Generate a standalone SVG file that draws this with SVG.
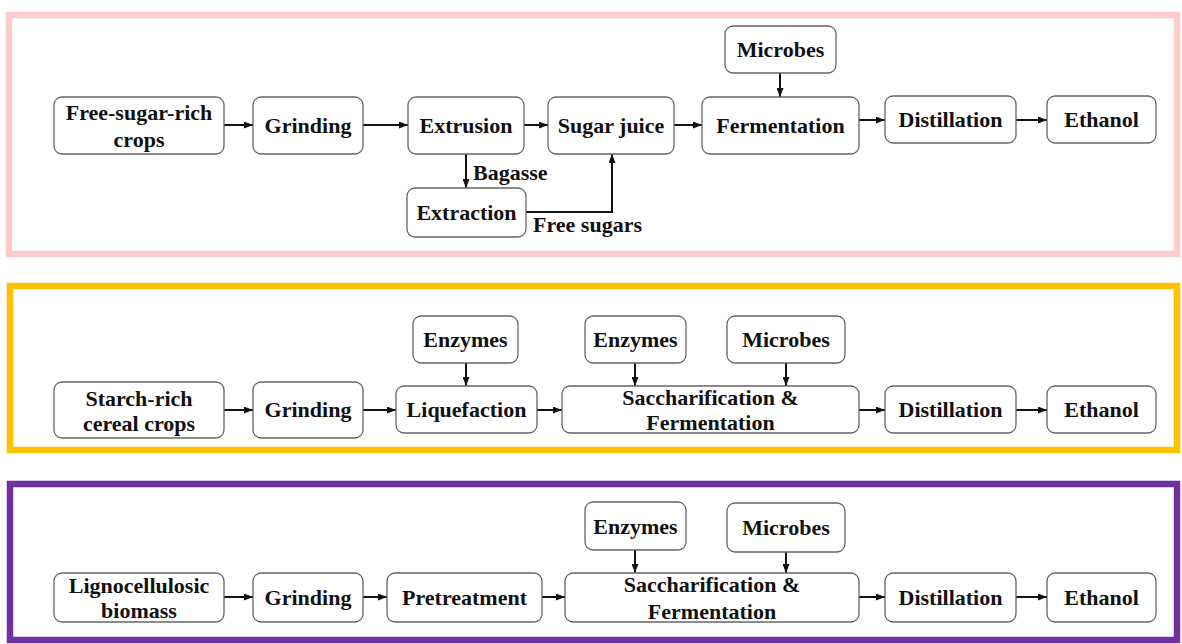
<svg xmlns="http://www.w3.org/2000/svg" width="1182" height="644" viewBox="0 0 1182 644" font-family="Liberation Serif, Times New Roman, serif">
<defs>
<style>
.frame{fill:none;stroke-width:6.5}
.box{fill:#fff;stroke:#666;stroke-width:1.3}
.t{font-weight:700;font-size:22px;fill:#111;text-anchor:middle}
.l{text-anchor:start}
.c{fill:none;stroke:#111;stroke-width:2;marker-end:url(#ah)}
</style>
<marker id="ah" markerUnits="userSpaceOnUse" markerWidth="9" markerHeight="7" refX="9" refY="3.5" orient="auto">
<path d="M0,0 L9,3.5 L0,7 z" fill="#111"/>
</marker>
</defs>
<rect width="1182" height="644" fill="#fff"/>
<rect class="frame" x="9" y="15" width="1168" height="239" stroke="#FFCCCC"/>
<rect class="frame" x="10" y="286" width="1167" height="164" stroke="#FFC000"/>
<rect class="frame" x="10" y="484" width="1167" height="156" stroke="#7030A0"/>

<g id="connectors">
<path class="c" d="M224,125 H253"/>
<path class="c" d="M363,125 H408"/>
<path class="c" d="M524,125 H548"/>
<path class="c" d="M674,125 H702"/>
<path class="c" d="M859,120 H885"/>
<path class="c" d="M1016,120 H1047"/>
<path class="c" d="M780,73 V97"/>
<path class="c" d="M466,154 V188"/>
<path class="c" d="M526,212 H612 V154"/>

<path class="c" d="M224,410 H253"/>
<path class="c" d="M363,410 H396"/>
<path class="c" d="M537,410 H562"/>
<path class="c" d="M859,410 H885"/>
<path class="c" d="M1016,410 H1047"/>
<path class="c" d="M466,363 V386"/>
<path class="c" d="M635,363 V386"/>
<path class="c" d="M786,363 V386"/>

<path class="c" d="M224,597 H253"/>
<path class="c" d="M363,597 H387"/>
<path class="c" d="M542,597 H565"/>
<path class="c" d="M859,597 H885"/>
<path class="c" d="M1016,597 H1047"/>
<path class="c" d="M635,550 V573"/>
<path class="c" d="M786,552 V573"/>
<text class="t l" x="473" y="180">Bagasse</text>
<text class="t l" x="533" y="232">Free sugars</text>
</g>

<g id="r1-crops"><rect class="box" x="54" y="97" width="170" height="57" rx="8"/><text class="t" x="139" y="120">Free-sugar-rich</text><text class="t" x="139" y="147">crops</text></g>
<g id="r1-grinding"><rect class="box" x="253" y="97" width="110" height="57" rx="8"/><text class="t" x="308" y="133">Grinding</text></g>
<g id="r1-extrusion"><rect class="box" x="408" y="97" width="116" height="57" rx="8"/><text class="t" x="466" y="133">Extrusion</text></g>
<g id="r1-juice"><rect class="box" x="548" y="97" width="126" height="57" rx="8"/><text class="t" x="611" y="133">Sugar juice</text></g>
<g id="r1-fermentation"><rect class="box" x="702" y="97" width="157" height="57" rx="8"/><text class="t" x="780.5" y="133">Fermentation</text></g>
<g id="r1-microbes"><rect class="box" x="725" y="26" width="111" height="47" rx="8"/><text class="t" x="780.5" y="57">Microbes</text></g>
<g id="r1-distillation"><rect class="box" x="885" y="96" width="131" height="47" rx="8"/><text class="t" x="950.5" y="127">Distillation</text></g>
<g id="r1-ethanol"><rect class="box" x="1047" y="96" width="109" height="47" rx="8"/><text class="t" x="1101.5" y="127">Ethanol</text></g>
<g id="r1-extraction"><rect class="box" x="407" y="188" width="119" height="49" rx="8"/><text class="t" x="466.5" y="220">Extraction</text></g>

<g id="r2-crops"><rect class="box" x="54" y="382" width="170" height="56" rx="8"/><text class="t" x="139" y="406">Starch-rich</text><text class="t" x="139" y="431">cereal crops</text></g>
<g id="r2-grinding"><rect class="box" x="253" y="382" width="110" height="56" rx="8"/><text class="t" x="308" y="417">Grinding</text></g>
<g id="r2-liquefaction"><rect class="box" x="396" y="386" width="141" height="47" rx="8"/><text class="t" x="466.5" y="417">Liquefaction</text></g>
<g id="r2-enzymes1"><rect class="box" x="413" y="316" width="105" height="47" rx="8"/><text class="t" x="465.5" y="347">Enzymes</text></g>
<g id="r2-ssf"><rect class="box" x="562" y="386" width="297" height="47" rx="8"/><text class="t" x="710.5" y="405">Saccharification &amp;</text><text class="t" x="710.5" y="430">Fermentation</text></g>
<g id="r2-enzymes2"><rect class="box" x="585" y="316" width="101" height="47" rx="8"/><text class="t" x="635.5" y="347">Enzymes</text></g>
<g id="r2-microbes"><rect class="box" x="727" y="316" width="118" height="47" rx="8"/><text class="t" x="786" y="347">Microbes</text></g>
<g id="r2-distillation"><rect class="box" x="885" y="386" width="131" height="47" rx="8"/><text class="t" x="950.5" y="417">Distillation</text></g>
<g id="r2-ethanol"><rect class="box" x="1047" y="386" width="109" height="47" rx="8"/><text class="t" x="1101.5" y="417">Ethanol</text></g>

<g id="r3-biomass"><rect class="box" x="54" y="573" width="170" height="49" rx="8"/><text class="t" x="139" y="593">Lignocellulosic</text><text class="t" x="139" y="618">biomass</text></g>
<g id="r3-grinding"><rect class="box" x="253" y="573" width="110" height="49" rx="8"/><text class="t" x="308" y="605">Grinding</text></g>
<g id="r3-pretreatment"><rect class="box" x="387" y="573" width="155" height="49" rx="8"/><text class="t" x="464.5" y="605">Pretreatment</text></g>
<g id="r3-ssf"><rect class="box" x="565" y="573" width="294" height="49" rx="8"/><text class="t" x="712" y="592">Saccharification &amp;</text><text class="t" x="712" y="619">Fermentation</text></g>
<g id="r3-enzymes"><rect class="box" x="585" y="502" width="101" height="48" rx="8"/><text class="t" x="635.5" y="534">Enzymes</text></g>
<g id="r3-microbes"><rect class="box" x="727" y="503" width="118" height="49" rx="8"/><text class="t" x="786" y="535">Microbes</text></g>
<g id="r3-distillation"><rect class="box" x="885" y="573" width="131" height="49" rx="8"/><text class="t" x="950.5" y="605">Distillation</text></g>
<g id="r3-ethanol"><rect class="box" x="1047" y="573" width="109" height="49" rx="8"/><text class="t" x="1101.5" y="605">Ethanol</text></g>
</svg>
